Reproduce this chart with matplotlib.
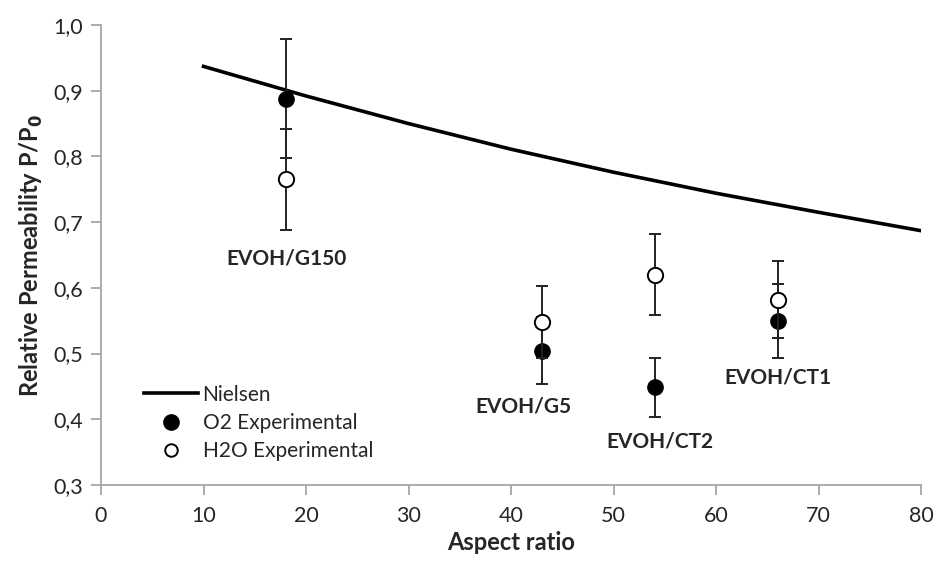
import matplotlib
matplotlib.use("Agg")
import matplotlib.pyplot as plt
from matplotlib.ticker import FuncFormatter
from matplotlib.lines import Line2D

plt.rcParams['font.family'] = ['Lato', 'DejaVu Sans']

# Nielsen model curve
nielsen_x = [10, 20, 30, 40, 50, 60, 70, 80]
nielsen_y = [0.937, 0.892, 0.850, 0.811, 0.776, 0.744, 0.715, 0.687]

# Experimental points
samples = ["EVOH/G150", "EVOH/G5", "EVOH/CT2", "EVOH/CT1"]
aspect = [18, 43, 54, 66]
o2_vals = [0.888, 0.504, 0.449, 0.550]
o2_err = [0.090, 0.051, 0.045, 0.056]
h2o_vals = [0.765, 0.548, 0.620, 0.582]
h2o_err = [0.077, 0.055, 0.062, 0.059]

# label positions (data coords)
label_x = [18.1, 41.2, 54.5, 66.0]
label_y = [0.645, 0.419, 0.366, 0.464]

fig = plt.figure(figsize=(9.36, 5.63), dpi=100)
ax = fig.add_axes([101/936, 1 - 485/563, 820/936, 460/563])

ax.plot(nielsen_x, nielsen_y, color='black', lw=2.6, zorder=2)
ax.errorbar(aspect, o2_vals, yerr=o2_err, fmt='o', color='black', mfc='black',
            mec='black', ms=11, ecolor='#222222', elinewidth=1.4, capsize=4.4,
            capthick=1.4, zorder=3)
ax.errorbar(aspect, h2o_vals, yerr=h2o_err, fmt='o', color='black', mfc='white',
            mec='black', ms=11, mew=1.4, ecolor='#222222', elinewidth=1.4, capsize=4.4,
            capthick=1.4, zorder=4)

for s, x, y in zip(samples, label_x, label_y):
    ax.text(x, y, s, ha='center', va='center', fontsize=15, fontweight='bold',
            color='#262626')

ax.set_xlim(0, 80)
ax.set_ylim(0.3, 1.0)
ax.set_xticks(range(0, 81, 10))
ax.set_yticks([0.3, 0.4, 0.5, 0.6, 0.7, 0.8, 0.9, 1.0])
ax.yaxis.set_major_formatter(FuncFormatter(lambda v, p: f"{v:.1f}".replace('.', ',')))

for side in ['top', 'right']:
    ax.spines[side].set_visible(False)
for side in ['left', 'bottom']:
    ax.spines[side].set_color('#a6a6a6')
    ax.spines[side].set_linewidth(1.3)
ax.tick_params(axis='both', direction='out', length=7, width=1.3, color='#a6a6a6',
               labelsize=15.5, labelcolor='#262626')
ax.tick_params(axis='x', pad=8)
ax.tick_params(axis='y', pad=6)

ax.set_xlabel('Aspect ratio', fontsize=17, fontweight='bold', color='#262626', labelpad=4)
ax.set_ylabel('Relative Permeability P/P$_\\mathbf{0}$', fontsize=17, fontweight='bold',
              color='#262626', labelpad=6)

handles = [
    Line2D([], [], color='black', lw=2.6),
    Line2D([], [], ls='none', marker='o', ms=11, mfc='black', mec='black'),
    Line2D([], [], ls='none', marker='o', ms=9, mfc='white', mec='black', mew=1.4),
]
labels = ['Nielsen', 'O2 Experimental', 'H2O Experimental']
leg = ax.legend(handles, labels, loc='lower left', bbox_to_anchor=(0.035, 0.02),
                frameon=False, fontsize=15, handlelength=2.6, handletextpad=0.2,
                labelspacing=0.4, borderaxespad=0.3)
for t in leg.get_texts():
    t.set_color('#262626')

fig.savefig('out.png', dpi=100)
